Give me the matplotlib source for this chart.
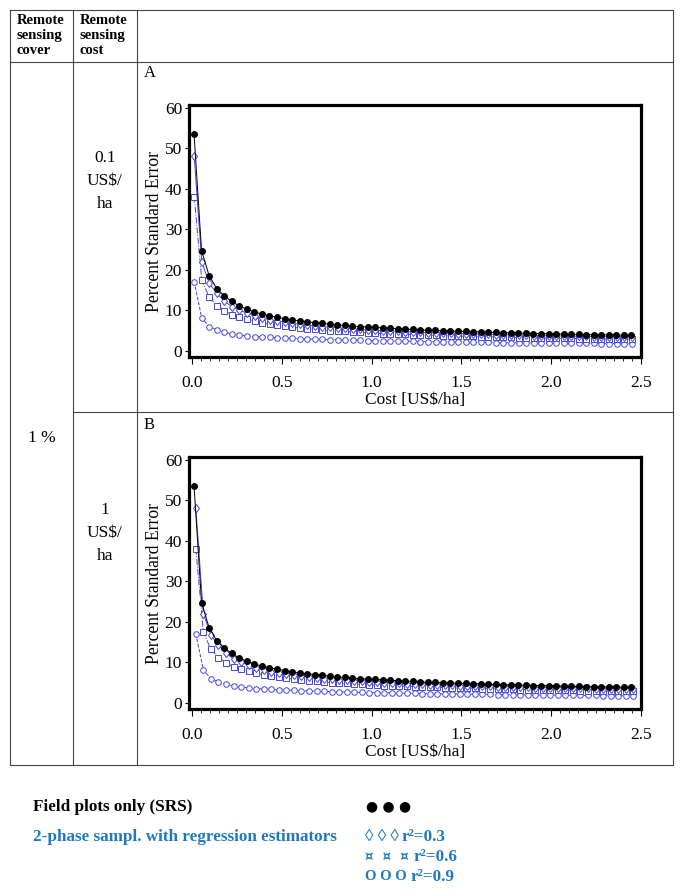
import matplotlib.pyplot as plt
from matplotlib.ticker import MultipleLocator

# cost of the field inventory [US$/ha], same for all curves
cost = [0.011, 0.053, 0.095, 0.137, 0.179, 0.221, 0.263, 0.305, 0.347, 0.389,
        0.431, 0.473, 0.515, 0.557, 0.599, 0.641, 0.683, 0.725, 0.767, 0.809,
        0.851, 0.893, 0.935, 0.977, 1.019, 1.061, 1.103, 1.145, 1.187, 1.229,
        1.271, 1.313, 1.355, 1.397, 1.439, 1.481, 1.523, 1.565, 1.607, 1.649,
        1.691, 1.733, 1.775, 1.817, 1.859, 1.901, 1.943, 1.985, 2.027, 2.069,
        2.111, 2.153, 2.195, 2.237, 2.279, 2.321, 2.363, 2.405, 2.447]

# remote sensing cost per ha of area (cover 1 %)
rs_cost = {"A": 0.001, "B": 0.01}

se_srs = [53.6, 24.7, 18.6, 15.4, 13.6, 12.2, 11.1, 10.3, 9.6, 9.1,
          8.7, 8.3, 8.0, 7.7, 7.4, 7.2, 7.0, 6.8, 6.6, 6.4,
          6.3, 6.1, 6.0, 5.9, 5.8, 5.7, 5.6, 5.5, 5.4, 5.3,
          5.2, 5.1, 5.05, 5.0, 4.9, 4.85, 4.8, 4.75, 4.7, 4.6,
          4.55, 4.5, 4.45, 4.4, 4.35, 4.3, 4.3, 4.25, 4.2, 4.15,
          4.1, 4.1, 4.05, 4.0, 4.0, 3.95, 3.9, 3.9, 3.85]

se_r03 = [48.0, 22.0, 16.7, 14.2, 12.3, 10.9, 10.1, 9.3, 8.6, 8.1,
          7.7, 7.4, 7.1, 6.8, 6.6, 6.4, 6.2, 6.0, 5.85, 5.7,
          5.55, 5.4, 5.3, 5.2, 5.1, 5.0, 4.95, 4.85, 4.75, 4.7,
          4.6, 4.5, 4.45, 4.4, 4.35, 4.3, 4.25, 4.2, 4.15, 4.1,
          4.05, 4.0, 3.95, 3.9, 3.85, 3.8, 3.8, 3.75, 3.7, 3.7,
          3.65, 3.6, 3.6, 3.55, 3.55, 3.5, 3.5, 3.45, 3.4]

se_r06 = [38.1, 17.5, 13.2, 11.2, 9.9, 8.9, 8.3, 7.8, 7.4, 6.9,
          6.6, 6.3, 6.1, 5.85, 5.65, 5.5, 5.3, 5.15, 5.0, 4.9,
          4.8, 4.65, 4.55, 4.5, 4.4, 4.3, 4.25, 4.2, 4.1, 4.0,
          3.95, 3.9, 3.85, 3.8, 3.7, 3.65, 3.6, 3.6, 3.55, 3.5,
          3.45, 3.4, 3.35, 3.3, 3.3, 3.25, 3.2, 3.2, 3.15, 3.1,
          3.1, 3.05, 3.05, 3.0, 3.0, 2.95, 2.95, 2.9, 2.9]

se_r09 = [17.1, 8.1, 6.0, 5.2, 4.6, 4.2, 3.9, 3.7, 3.55, 3.45,
          3.35, 3.25, 3.15, 3.1, 3.0, 2.95, 2.9, 2.85, 2.8, 2.75,
          2.7, 2.65, 2.6, 2.55, 2.5, 2.5, 2.45, 2.4, 2.4, 2.35,
          2.3, 2.3, 2.25, 2.25, 2.2, 2.2, 2.15, 2.15, 2.1, 2.1,
          2.05, 2.05, 2.0, 2.0, 2.0, 1.95, 1.95, 1.95, 1.9, 1.9,
          1.9, 1.85, 1.85, 1.85, 1.8, 1.8, 1.8, 1.75, 1.75]

panels = ["A", "B"]
row_cost_labels = ["0.1\nUS$/\nha", "1\nUS$/\nha"]
legend_syms = ["\u25CA \u25CA \u25CA", "\u00a4  \u00a4  \u00a4", "O O O"]
legend_r2 = ["r\u00b2=0.3", "r\u00b2=0.6", "r\u00b2=0.9"]

W, H = 685, 896
SERIF = "Liberation Serif"
BLUE = "#4646dc"
LEG_BLUE = "#1f78c0"
GRID = "#444444"

plt.rcParams["font.family"] = [SERIF, "DejaVu Sans"]

fig = plt.figure(figsize=(W / 100, H / 100), dpi=100)

# background axes in pixel coordinates for the table
bg = fig.add_axes([0, 0, 1, 1])
bg.set_xlim(0, W)
bg.set_ylim(H, 0)
bg.axis("off")

lw_tab = 0.8
bg.plot([10, 673, 673, 10, 10], [10, 10, 765, 765, 10], color=GRID, lw=lw_tab)
bg.plot([10, 673], [62, 62], color=GRID, lw=lw_tab)
bg.plot([73, 73], [10, 765], color=GRID, lw=lw_tab)
bg.plot([137, 137], [10, 765], color=GRID, lw=lw_tab)
bg.plot([73, 673], [412, 412], color=GRID, lw=lw_tab)

bg.text(17, 36, "Remote\nsensing\ncover", ha="left", va="center",
        fontsize=10.5, fontweight="bold", linespacing=1.2)
bg.text(80, 36, "Remote\nsensing\ncost", ha="left", va="center",
        fontsize=10.5, fontweight="bold", linespacing=1.2)
bg.text(42, 438, "1 %", ha="center", va="center", fontsize=12.5)

row_tops = [105, 457]
for k, p in enumerate(panels):
    top = row_tops[k]
    bot = top + 252
    bg.text(144, top - 32, p, ha="left", va="center", fontsize=12)
    bg.text(105, top + 76, row_cost_labels[k], ha="center", va="center",
            fontsize=12.5, linespacing=1.55)

    l, r = 189, 641
    ax = fig.add_axes([l / W, 1 - bot / H, (r - l) / W, (bot - top) / H])
    off = rs_cost[p]
    x_reg = [c + off for c in cost]

    ax.plot(x_reg, se_r09, ls="--", color=BLUE, lw=0.7, marker="o", ms=4,
            mfc="white", mec=BLUE, mew=0.7, zorder=2)
    ax.plot(x_reg, se_r06, ls="-.", color=BLUE, lw=0.7, marker="s", ms=4,
            mfc="white", mec=BLUE, mew=0.7, zorder=3)
    ax.plot(x_reg, se_r03, ls="-", color=BLUE, lw=0.7, marker="d", ms=4.5,
            mfc="white", mec=BLUE, mew=0.7, zorder=4)
    ax.plot(cost, se_srs, ls="-", color="black", lw=0.7, marker="o", ms=4,
            mfc="black", mec="black", zorder=5)

    ax.set_xlim(-0.017, 2.5)
    ax.set_ylim(-1.5, 60.7)
    ax.xaxis.set_major_locator(MultipleLocator(0.5))
    ax.xaxis.set_minor_locator(MultipleLocator(0.05))
    ax.yaxis.set_major_locator(MultipleLocator(10))
    ax.xaxis.set_major_formatter(plt.FuncFormatter(lambda v, _: f"{v:.1f}"))
    ax.tick_params(axis="x", which="major", length=5, width=0.8, pad=8,
                   labelsize=12.5)
    ax.tick_params(axis="x", which="minor", length=3, width=0.6)
    ax.tick_params(axis="y", which="major", length=3, width=0.8, pad=2,
                   labelsize=12.5)
    for s in ax.spines.values():
        s.set_linewidth(2.3)
    ax.set_xlabel("Cost [US$/ha]", fontsize=12.5, labelpad=1)
    ax.set_ylabel("Percent Standard Error", fontsize=12.7, labelpad=1)

# legend block below the table
bg.text(33, 807, "Field plots only (SRS)", ha="left", va="center",
        fontsize=12.3, fontweight="bold", color="black")
bg.text(366, 806, "\u25CF \u25CF \u25CF", ha="left", va="center",
        fontsize=10, color="black", family=["DejaVu Sans"])
bg.text(33, 837, "2-phase sampl. with regression estimators", ha="left",
        va="center", fontsize=12.3, fontweight="bold", color=LEG_BLUE)
sym_x = [365, 365, 365]
r2_x = [402, 414, 411]
sym_size = [12.3, 9.5, 10.5]
for i, y in enumerate([837, 857, 877]):
    fam = ["DejaVu Sans"] if i == 1 else [SERIF, "DejaVu Sans"]
    bg.text(sym_x[i], y, legend_syms[i], ha="left", va="center",
            fontsize=sym_size[i], fontweight="bold",
            color=LEG_BLUE, family=fam)
    bg.text(r2_x[i], y, legend_r2[i], ha="left", va="center",
            fontsize=12.3, fontweight="bold", color=LEG_BLUE)

fig.savefig("out.png", dpi=100)
